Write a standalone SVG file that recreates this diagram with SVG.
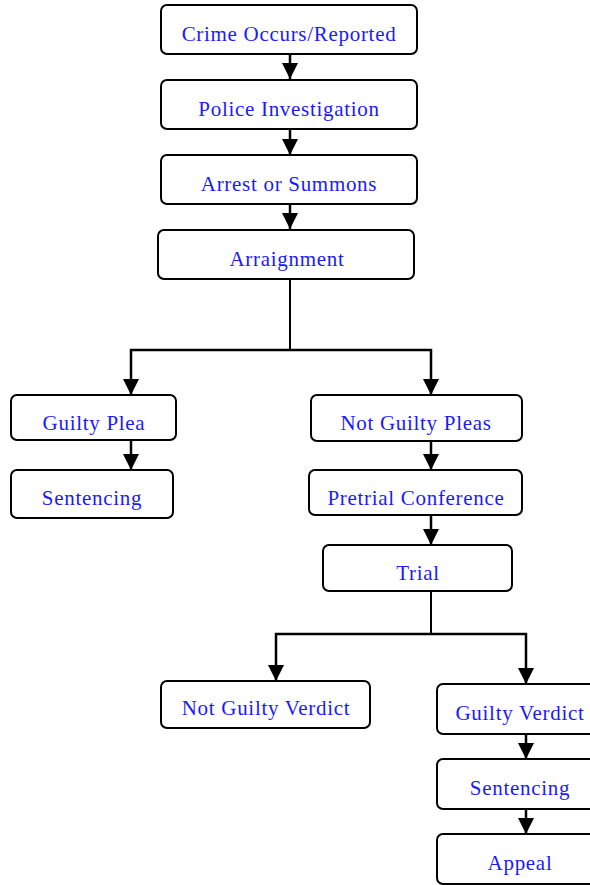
<svg xmlns="http://www.w3.org/2000/svg" width="590" height="885" viewBox="0 0 590 885">
<style>
.box{fill:#fff;stroke:#000;stroke-width:2}
.lbl{font-family:"Liberation Serif","Times New Roman",serif;font-size:21px;letter-spacing:0.7px;fill:#1a1aff;text-anchor:middle}
.con{fill:none;stroke:#000;stroke-width:2.5}
</style>
<defs>
<marker id="ah" markerUnits="userSpaceOnUse" markerWidth="16" markerHeight="16" viewBox="0 0 16 16" refX="16" refY="8" orient="auto">
<path d="M0,0 L16,8 L0,16 Z" fill="#000"/>
</marker>
</defs>
<rect width="590" height="885" fill="#fff"/>
<g id="connectors">
<path class="con" d="M290,54 V79" marker-end="url(#ah)"/>
<path class="con" d="M290,129 V155" marker-end="url(#ah)"/>
<path class="con" d="M290,204 V229" marker-end="url(#ah)"/>
<path class="con" d="M290,279 V350" style="stroke-width:2"/>
<path class="con" d="M290,350 H131 V395" marker-end="url(#ah)"/>
<path class="con" d="M290,350 H431 V395" marker-end="url(#ah)"/>
<path class="con" d="M131,440 V470" marker-end="url(#ah)"/>
<path class="con" d="M431,441 V470" marker-end="url(#ah)"/>
<path class="con" d="M431,515 V545" marker-end="url(#ah)"/>
<path class="con" d="M431,591 V634" style="stroke-width:2"/>
<path class="con" d="M431,634 H276 V681" marker-end="url(#ah)"/>
<path class="con" d="M431,634 H526 V684" marker-end="url(#ah)"/>
<path class="con" d="M526,734 V759" marker-end="url(#ah)"/>
<path class="con" d="M526,809 V834" marker-end="url(#ah)"/>
</g>
<g id="crime"><rect class="box" x="161" y="5" width="256" height="49" rx="6"/><text class="lbl" x="289" y="41">Crime Occurs/Reported</text></g>
<g id="police"><rect class="box" x="161" y="80" width="256" height="49" rx="6"/><text class="lbl" x="289" y="116">Police Investigation</text></g>
<g id="arrest"><rect class="box" x="161" y="155" width="256" height="49" rx="6"/><text class="lbl" x="289" y="191">Arrest or Summons</text></g>
<g id="arraignment"><rect class="box" x="158" y="230" width="256" height="49" rx="6"/><text class="lbl" x="287" y="266">Arraignment</text></g>
<g id="guiltyplea"><rect class="box" x="11" y="395" width="165" height="45" rx="6"/><text class="lbl" x="94" y="430">Guilty Plea</text></g>
<g id="sentencing1"><rect class="box" x="11" y="470" width="162" height="48" rx="6"/><text class="lbl" x="92" y="505">Sentencing</text></g>
<g id="notguiltypleas"><rect class="box" x="311" y="395" width="211" height="46" rx="6"/><text class="lbl" x="416" y="430">Not Guilty Pleas</text></g>
<g id="pretrial"><rect class="box" x="309" y="470" width="213" height="45" rx="6"/><text class="lbl" x="416" y="505">Pretrial Conference</text></g>
<g id="trial"><rect class="box" x="323" y="545" width="189" height="46" rx="6"/><text class="lbl" x="418" y="580">Trial</text></g>
<g id="notguiltyverdict"><rect class="box" x="161" y="681" width="209" height="47" rx="6"/><text class="lbl" x="266" y="715">Not Guilty Verdict</text></g>
<g id="guiltyverdict"><rect class="box" x="437" y="684" width="166" height="50" rx="6"/><text class="lbl" x="520" y="720">Guilty Verdict</text></g>
<g id="sentencing2"><rect class="box" x="437" y="759" width="166" height="50" rx="6"/><text class="lbl" x="520" y="795">Sentencing</text></g>
<g id="appeal"><rect class="box" x="437" y="834" width="166" height="50" rx="6"/><text class="lbl" x="520" y="870">Appeal</text></g>
</svg>
